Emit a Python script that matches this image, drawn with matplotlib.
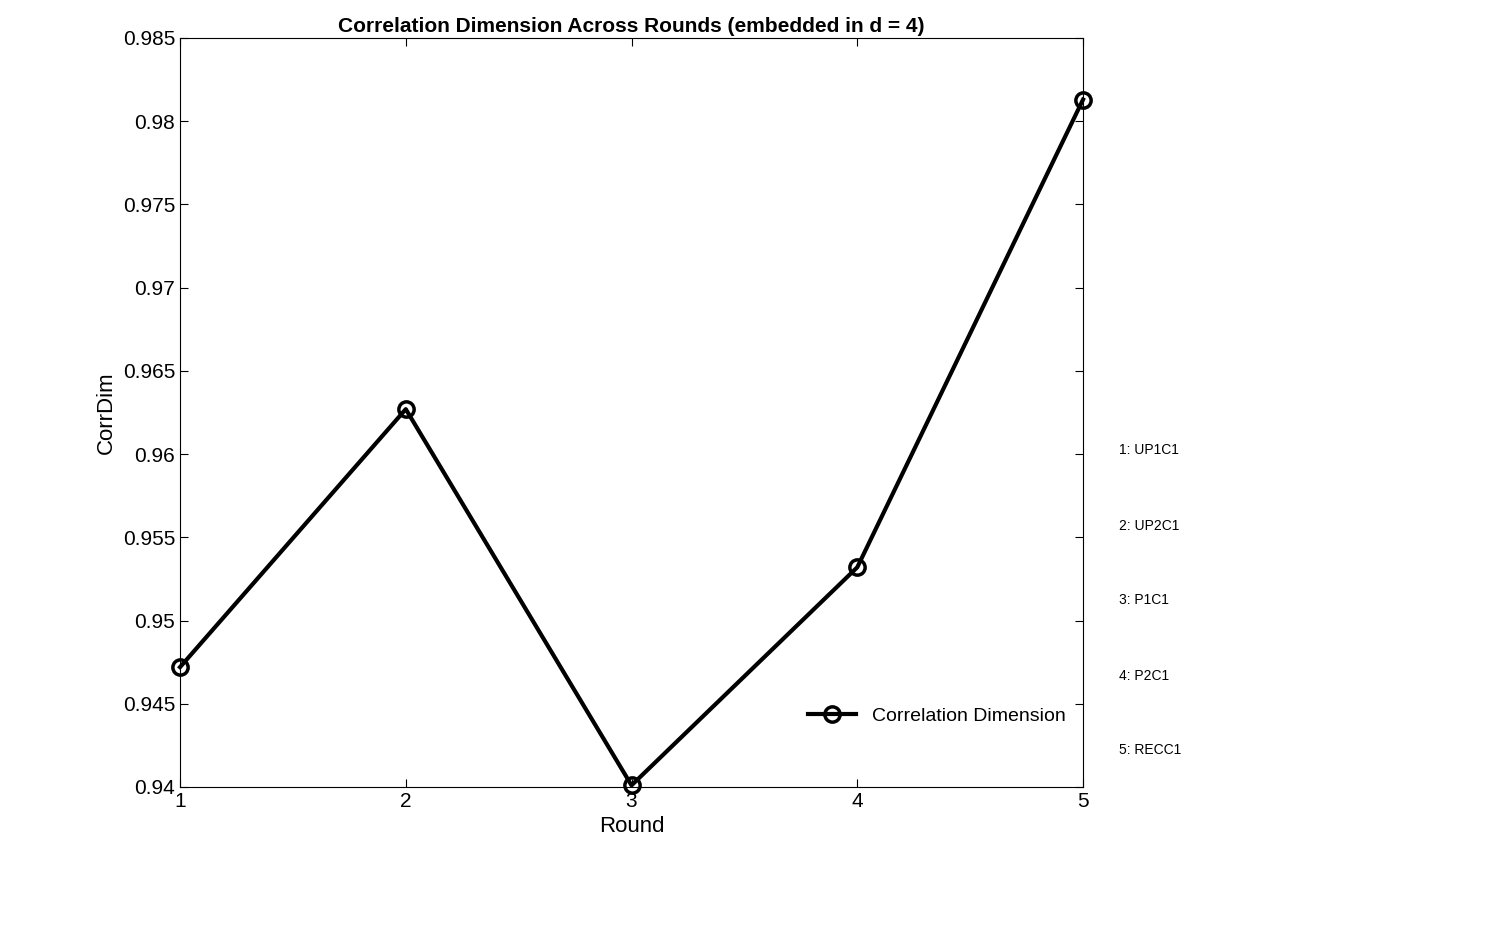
import matplotlib
matplotlib.use('Agg')
import matplotlib.pyplot as plt
import numpy as np

rounds = [1, 2, 3, 4, 5]
corrdim = [0.9472, 0.9627, 0.9401, 0.9532, 0.9813]
round_names = ['1: UP1C1', '2: UP2C1', '3: P1C1', '4: P2C1', '5: RECC1']
yticks = [0.94, 0.945, 0.95, 0.955, 0.96, 0.965, 0.97, 0.975, 0.98, 0.985]

plt.rcParams['font.family'] = ['Liberation Sans', 'DejaVu Sans']
fig = plt.figure(figsize=(15.04, 9.38), dpi=100)
ax = fig.add_axes([0.1197, 0.161, 0.6004, 0.7985])

ax.plot(rounds, corrdim, '-o', color='k', lw=3, ms=11, mfc='none', mew=2.5,
        label='Correlation Dimension', clip_on=False, zorder=5)
ax.set_xlim(1, 5)
ax.set_ylim(0.94, 0.985)
ax.set_xticks(rounds)
ax.set_yticks(yticks)
ax.set_yticklabels([f'{v:g}' for v in yticks])
ax.tick_params(direction='in', length=6, labelsize=15, top=True, right=True, width=0.8)
for s in ax.spines.values():
    s.set_linewidth(0.8)
ax.set_xlabel('Round', fontsize=16)
ax.set_ylabel('CorrDim', fontsize=16)
ax.set_title('Correlation Dimension Across Rounds (embedded in d = 4)',
             fontsize=15, fontweight='bold', pad=4)
ax.legend(loc='lower right', bbox_to_anchor=(1.0, 0.06), frameon=False,
          fontsize=14, handlelength=2.5)

ys = [450, 526, 600, 676, 750]
for name, y in zip(round_names, ys):
    fig.text(1119 / 1504, 1 - y / 938, name, fontsize=10, va='center')

fig.savefig('out.png', dpi=100)
